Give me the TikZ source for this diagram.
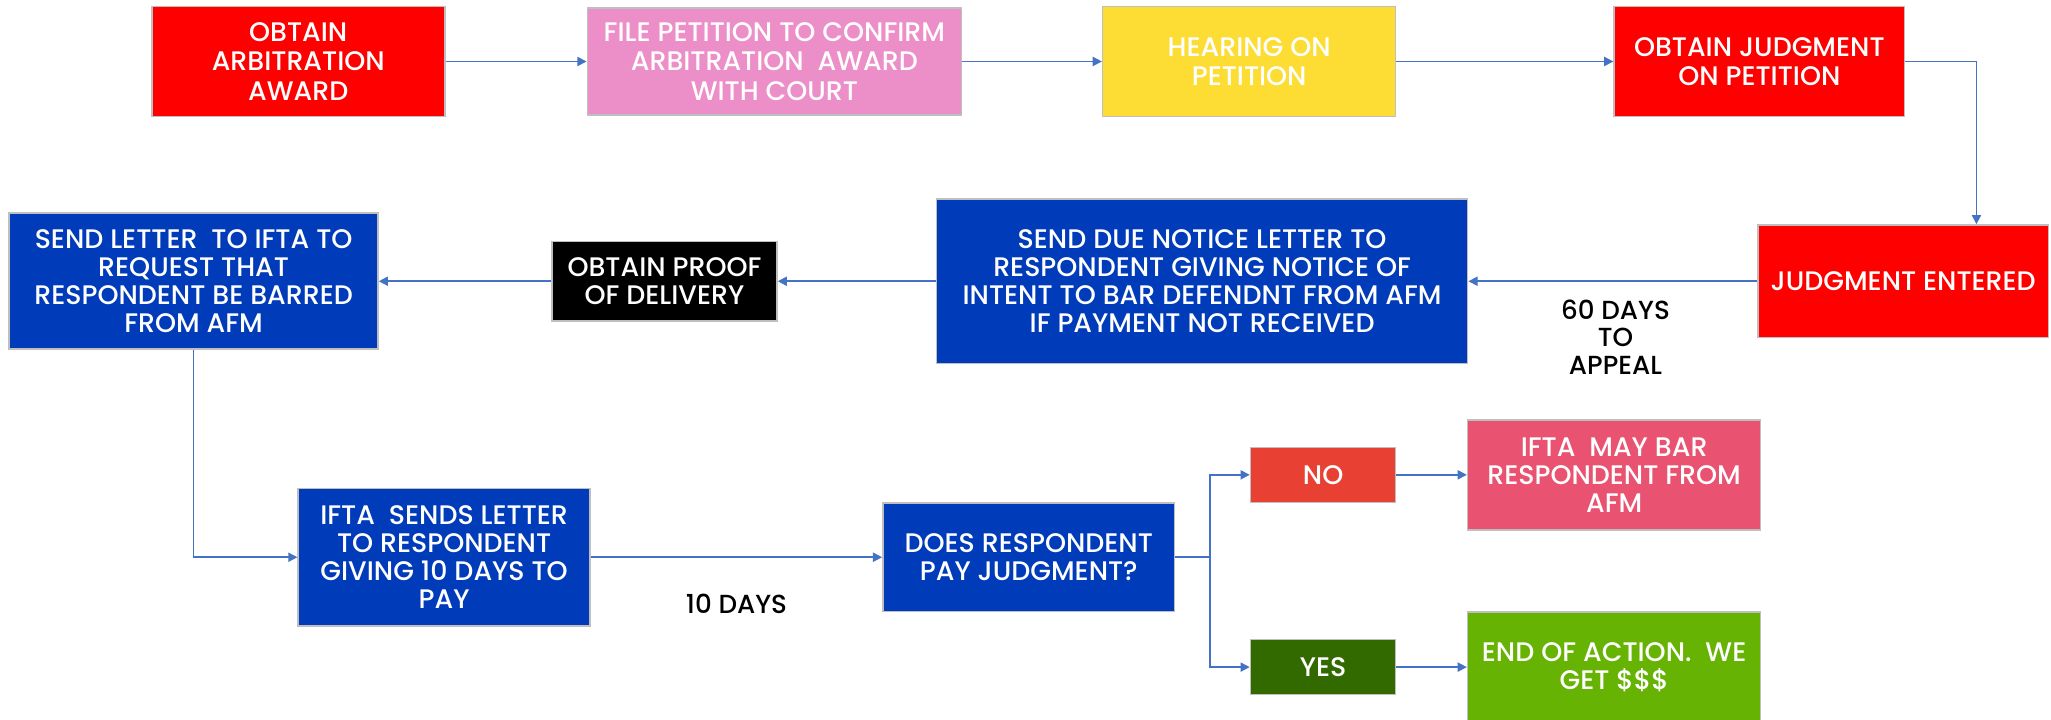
\documentclass[tikz,border=0pt]{standalone}
\usepackage{fontspec}
\setmainfont{Poppins}[UprightFont={* Medium}]
\usetikzlibrary{arrows.meta,calc}
\definecolor{boxline}{HTML}{BFBFBF}
\definecolor{arrowc}{HTML}{4472C4}
\definecolor{cred}{HTML}{FF0000}
\definecolor{cpink}{HTML}{EC8EC8}
\definecolor{cyellow}{HTML}{FDDC33}
\definecolor{cblue}{HTML}{003CBA}
\definecolor{cno}{HTML}{E94034}
\definecolor{cmay}{HTML}{E95270}
\definecolor{cyes}{HTML}{336A00}
\definecolor{cend}{HTML}{66B304}
\tikzset{
  box/.style={draw=boxline, line width=1.2pt, text=white, align=center, inner sep=0pt,
    font=\fontsize{20.5}{22.5}\selectfont},
  cbox/.style={box, font=\fontsize{20.5}{21.5}\selectfont},
  arr/.style={draw=arrowc, line width=1.2pt, -{Triangle[length=7pt,width=7pt]}},
  ln/.style={draw=arrowc, line width=1.2pt},
  lbl/.style={align=center, text=black, inner sep=0pt, font=\fontsize{20}{21}\selectfont}
}
\begin{document}
\begin{tikzpicture}[x=1pt,y=-1pt]
\useasboundingbox (0,0) rectangle (1568,550);
% top row
\node[box, fill=cred, minimum width=224pt, minimum height=84pt] (b1) at (228,47) {OBTAIN\\ARBITRATION\\AWARD};
\node[box, fill=cpink, minimum width=286pt, minimum height=82pt] (b2) at (592,47) {FILE PETITION TO CONFIRM\\ARBITRATION\ \ AWARD\\WITH COURT};
\node[box, fill=cyellow, minimum width=224pt, minimum height=84pt] (b3) at (955,47) {HEARING ON\\PETITION};
\node[box, fill=cred, minimum width=222pt, minimum height=84pt] (b4) at (1345,47) {OBTAIN JUDGMENT\\ON PETITION};
% middle row
\node[cbox, fill=cred, minimum width=222pt, minimum height=86pt] (b5) at (1455,215) {JUDGMENT ENTERED};
\node[cbox, fill=cblue, minimum width=406pt, minimum height=126pt] (b6) at (919,215) {SEND DUE NOTICE LETTER TO\\RESPONDENT GIVING NOTICE OF\\INTENT TO BAR DEFENDNT FROM AFM\\IF PAYMENT NOT RECEIVED};
\node[cbox, fill=black, minimum width=172pt, minimum height=61pt] (b7) at (508,215) {OBTAIN PROOF\\OF DELIVERY};
\node[cbox, fill=cblue, minimum width=282pt, minimum height=104pt] (b8) at (148,215) {SEND LETTER\ \ TO IFTA TO\\REQUEST THAT\\RESPONDENT BE BARRED\\FROM AFM};
% bottom row
\node[cbox, fill=cblue, minimum width=223pt, minimum height=105pt] (b9) at (339.5,426) {IFTA\ \ SENDS LETTER\\TO RESPONDENT\\GIVING 10 DAYS TO\\PAY};
\node[cbox, fill=cblue, minimum width=223pt, minimum height=83pt] (b10) at (786.5,426) {DOES RESPONDENT\\PAY JUDGMENT?};
\node[cbox, fill=cno, minimum width=111pt, minimum height=42pt] (no) at (1011.5,363) {NO};
\node[cbox, fill=cmay, minimum width=224pt, minimum height=84pt] (may) at (1234,363) {IFTA\ \ MAY BAR\\RESPONDENT FROM\\AFM};
\node[cbox, fill=cyes, minimum width=111pt, minimum height=42pt] (yes) at (1011.5,510) {YES};
\node[cbox, fill=cend, minimum width=224pt, minimum height=84pt] (end) at (1234,510) {END OF ACTION.\ \ WE\\GET \$\$\$};
% labels
\node[lbl] (l60) at (1235,257.5) {60 DAYS\\TO\\APPEAL};
\node[lbl] (l10) at (563,462) {10 DAYS};
% coordinates
\coordinate (c1) at (1511,0);
\coordinate (j) at (925,426);
% connectors
\draw[arr] (b1.east) -- (b1.east -| b2.west);
\draw[arr] (b2.east) -- (b2.east -| b3.west);
\draw[arr] (b3.east) -- (b3.east -| b4.west);
\draw[arr] (b4.east) -| (b5.north -| c1);
\draw[arr] (b5.west) -- (b5.west -| b6.east);
\draw[arr] (b6.west) -- (b6.west -| b7.east);
\draw[arr] (b7.west) -- (b7.west -| b8.east);
\draw[arr] (b8.south) |- (b9.west);
\draw[arr] (b9.east) -- (b9.east -| b10.west);
\draw[ln] (b10.east) -- (j);
\draw[arr] (j) |- (no.west);
\draw[arr] (j) |- (yes.west);
\draw[arr] (no.east) -- (may.west);
\draw[arr] (yes.east) -- (end.west);
\end{tikzpicture}
\end{document}
